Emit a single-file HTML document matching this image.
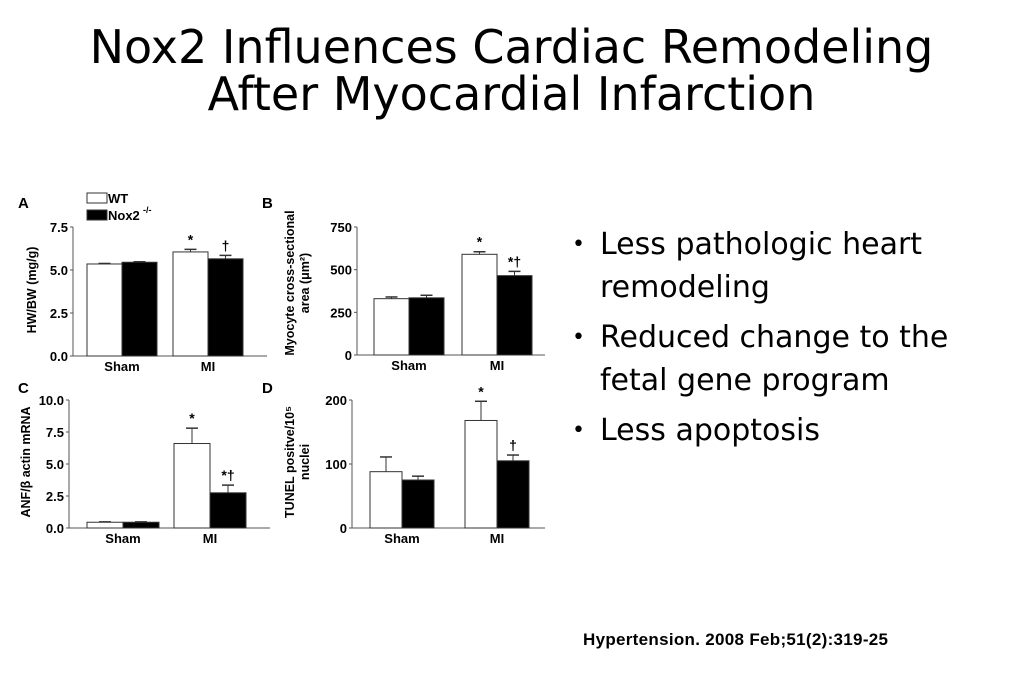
<!DOCTYPE html>
<html><head><meta charset="utf-8"><style>
body{margin:0;width:1023px;height:682px;background:#fff;overflow:hidden;position:relative;font-family:"Liberation Sans",sans-serif}
.title{position:absolute;left:0;width:1023px;top:24px;text-align:center;font-family:"DejaVu Sans",sans-serif;font-size:46px;line-height:47px;color:#000;white-space:nowrap}
ul{position:absolute;left:570px;top:223px;width:420px;margin:0;padding:0;list-style:none;font-family:"DejaVu Sans",sans-serif;font-size:30px;line-height:43px}
li{position:relative;padding-left:30px;margin-bottom:7px}
li:before{content:"•";position:absolute;left:2px;font-size:22px}
.cite{position:absolute;left:583px;top:630px;font-size:17px;font-weight:bold;letter-spacing:0.3px}
svg{position:absolute;left:0;top:0}
</style></head><body>
<div class="title">Nox2 Influences Cardiac Remodeling<br>After Myocardial Infarction</div>
<ul>
<li>Less pathologic heart remodeling</li>
<li>Reduced change to the fetal gene program</li>
<li>Less apoptosis</li>
</ul>
<div class="cite">Hypertension. 2008 Feb;51(2):319-25</div>
<svg id="chart" width="1023" height="682"></svg>
<script>
const groups=["Sham","MI"];
const aWT=[5.35,6.05], aWTErr=[0.03,0.15], aKO=[5.45,5.65], aKOErr=[0.03,0.2];
const aTicks=[0,2.5,5,7.5], aTickLabels=["0.0","2.5","5.0","7.5"];
const bWT=[330,590], bWTErr=[10,15], bKO=[335,465], bKOErr=[15,25];
const bTicks=[0,250,500,750], bTickLabels=["0","250","500","750"];
const cWT=[0.45,6.6], cWTErr=[0.03,1.2], cKO=[0.45,2.75], cKOErr=[0.03,0.6];
const cTicks=[0,2.5,5,7.5,10], cTickLabels=["0.0","2.5","5.0","7.5","10.0"];
const dWT=[88,168], dWTErr=[23,30], dKO=[75,105], dKOErr=[6,9];
const dTicks=[0,100,200], dTickLabels=["0","100","200"];

const svg=document.getElementById('chart');
const NS="http://www.w3.org/2000/svg";
function mk(t,a,txt){const e=document.createElementNS(NS,t);for(const k in a)e.setAttribute(k,a[k]);if(txt!==undefined)e.textContent=txt;svg.appendChild(e);return e;}
function panel(p){
  const y=v=>p.y0-(v/p.max)*(p.y0-p.y1);
  let e=mk('text',{x:p.lx,y:p.ly,'font-size':15,'font-weight':'bold'},p.letter);
  
  
  e=mk('line',{x1:p.ax,y1:p.y1,x2:p.ax,y2:p.y0,stroke:'#555','stroke-width':1});
  
  
  e=mk('line',{x1:p.ax,y1:p.y0,x2:p.xend,y2:p.y0,stroke:'#555','stroke-width':1});
  
  
  p.ticks.forEach((t,i)=>{
    mk('line',{x1:p.ax-3,y1:y(t),x2:p.ax,y2:y(t),stroke:'#555'});
    e=mk('text',{x:p.ax-5,y:y(t)+5,'font-size':13,'font-weight':'bold','text-anchor':'end'},p.tl[i]);
    
    
  });
  groups.forEach((g,i)=>{
    const gx=p.gx[i];
    [[p.wt,p.wtErr,'#fff',gx],[p.ko,p.koErr,'#000',gx+p.bw]].forEach(([vals,errs,fill,x],s)=>{
      const v=vals[i],top=y(v),et=y(v+errs[i]);
      mk('line',{x1:x+p.bw/2,y1:et,x2:x+p.bw/2,y2:top,stroke:'#333'});
      mk('line',{x1:x+p.bw/2-6,y1:et,x2:x+p.bw/2+6,y2:et,stroke:'#333','stroke-width':1.5});
      const r=mk('rect',{x:x,y:top,width:p.bw,height:p.y0-top,fill:fill,stroke:'#333','stroke-width':1});
      
      
      if(i===1){const m=p.marks[s];if(m){const t=mk('text',{x:x+p.bw/2,y:et-5,'font-size':14,'font-weight':'bold','text-anchor':'middle'},m);
        
        }}
    });
    e=mk('text',{x:gx+p.bw,y:p.y0+15,'font-size':13,'font-weight':'bold','text-anchor':'middle'},g);
    
    
  });
  p.ytitle.forEach((t,k)=>{
    const tx=p.tx+k*15;
    e=mk('text',{x:tx,y:p.ty,'font-size':12.5,'font-weight':'bold','text-anchor':'middle',transform:`rotate(-90 ${tx} ${p.ty})`},t);
    
    
  });
}
panel({letter:'A',lx:18,ly:208,ax:73,y0:356,y1:227,max:7.5,xend:267,ticks:aTicks,tl:aTickLabels,wt:aWT,wtErr:aWTErr,ko:aKO,koErr:aKOErr,gx:[87,173],bw:35,marks:["*","†"],ytitle:["HW/BW (mg/g)"],tx:36,ty:290});
panel({letter:'B',lx:262,ly:208,ax:357,y0:355,y1:227,max:750,xend:545,ticks:bTicks,tl:bTickLabels,wt:bWT,wtErr:bWTErr,ko:bKO,koErr:bKOErr,gx:[374,462],bw:35,marks:["*","*†"],ytitle:["Myocyte cross-sectional","area (μm²)"],tx:294,ty:283});
panel({letter:'C',lx:18,ly:393,ax:69,y0:528,y1:400,max:10,xend:270,ticks:cTicks,tl:cTickLabels,wt:cWT,wtErr:cWTErr,ko:cKO,koErr:cKOErr,gx:[87,174],bw:36,marks:["*","*†"],ytitle:["ANF/β actin mRNA"],tx:30,ty:462});
panel({letter:'D',lx:262,ly:393,ax:352,y0:528,y1:400,max:200,xend:545,ticks:dTicks,tl:dTickLabels,wt:dWT,wtErr:dWTErr,ko:dKO,koErr:dKOErr,gx:[370,465],bw:32,marks:["*","†"],ytitle:["TUNEL positve/10⁵","nuclei"],tx:294,ty:462});
let l=mk('rect',{x:87,y:193,width:20,height:10,fill:'#fff',stroke:'#333'});


l=mk('text',{x:108,y:203,'font-size':13,'font-weight':'bold'},'WT');


l=mk('rect',{x:87,y:210,width:20,height:10,fill:'#000',stroke:'#333'});


l=mk('text',{x:108,y:220,'font-size':13,'font-weight':'bold'},'Nox2');


l=mk('text',{x:143,y:213,'font-size':9,'font-weight':'bold'},'-/-');


</script>
</body></html>
